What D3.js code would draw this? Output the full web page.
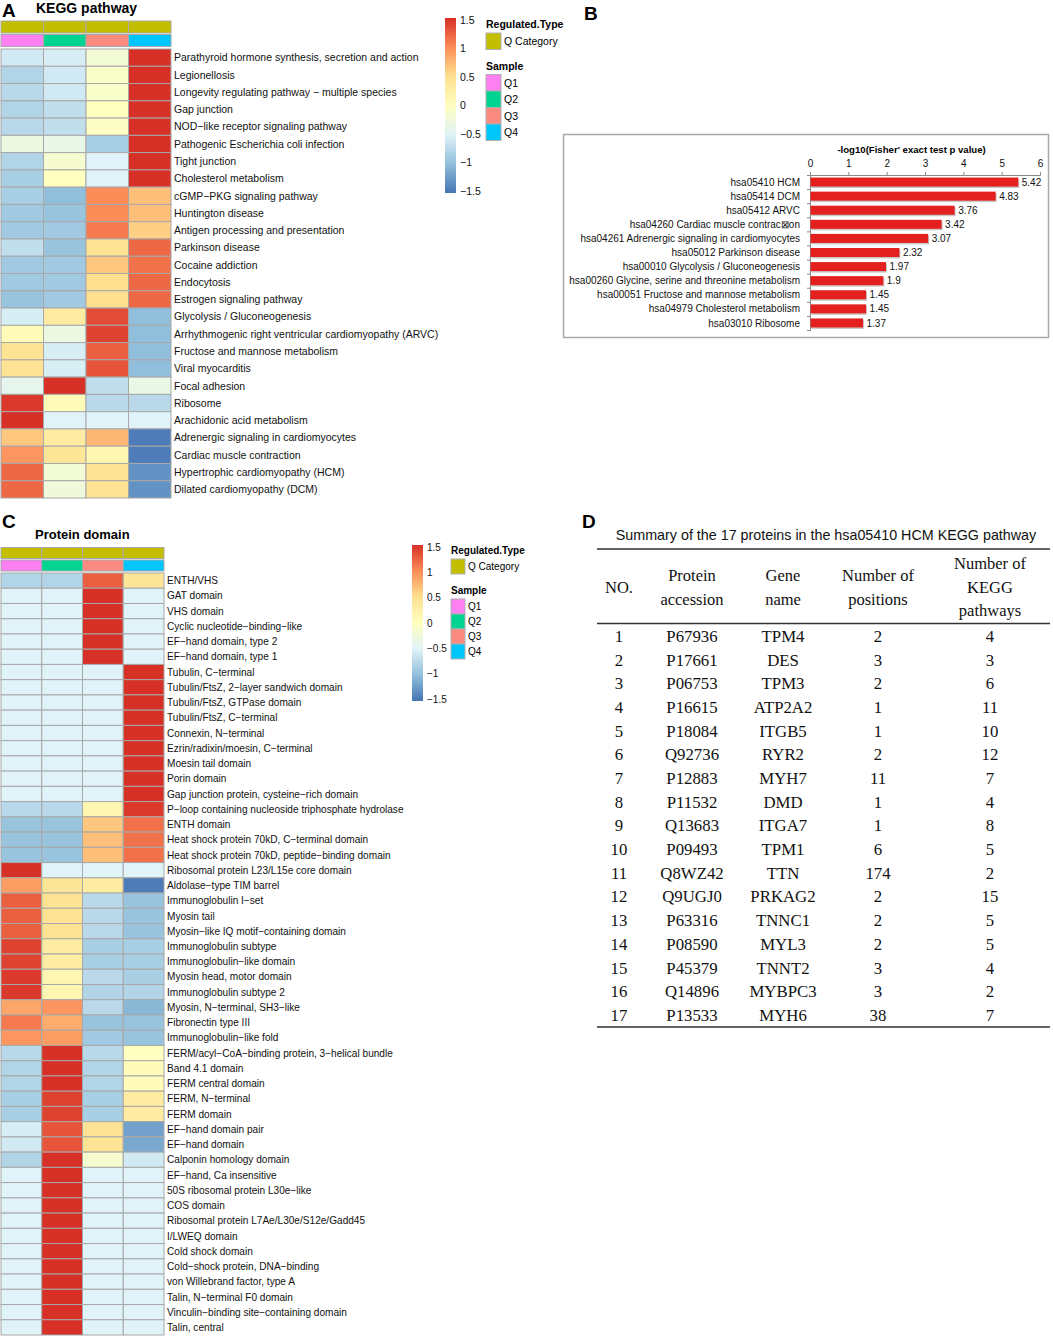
<!DOCTYPE html>
<html>
<head>
<meta charset="utf-8">
<script src="https://cdn.jsdelivr.net/npm/d3@7"></script>
<style>
body { margin: 0; background: #fff; }
svg { display: block; font-family: "Liberation Sans", Arial, sans-serif; }
</style>
</head>
<body>
<svg id="fig" width="1053" height="1337"></svg>
<script>
// ---- shared heatmap data ----
var samples = ["Q1", "Q2", "Q3", "Q4"];
var sampleColors = ["#fd80f2", "#00d490", "#fb8a80", "#00c6fb"];
var categoryColor = "#c3be00";
var heatColors = ["#4575b4", "#91bfdb", "#e0f3f8", "#ffffbf", "#fee090", "#fc8d59", "#d73027"];
var heatBreaks = [-1.5, -1, -0.5, 0, 0.5, 1, 1.5];
var legendTicks = [1.5, 1, 0.5, 0, -0.5, -1, -1.5];

// ---- panel A: KEGG pathway heatmap (Q1..Q4 per row) ----
var keggPathways = [
  "Parathyroid hormone synthesis, secretion and action",
  "Legionellosis",
  "Longevity regulating pathway \u2212 multiple species",
  "Gap junction",
  "NOD\u2212like receptor signaling pathway",
  "Pathogenic Escherichia coli infection",
  "Tight junction",
  "Cholesterol metabolism",
  "cGMP\u2212PKG signaling pathway",
  "Huntington disease",
  "Antigen processing and presentation",
  "Parkinson disease",
  "Cocaine addiction",
  "Endocytosis",
  "Estrogen signaling pathway",
  "Glycolysis / Gluconeogenesis",
  "Arrhythmogenic right ventricular cardiomyopathy (ARVC)",
  "Fructose and mannose metabolism",
  "Viral myocarditis",
  "Focal adhesion",
  "Ribosome",
  "Arachidonic acid metabolism",
  "Adrenergic signaling in cardiomyocytes",
  "Cardiac muscle contraction",
  "Hypertrophic cardiomyopathy (HCM)",
  "Dilated cardiomyopathy (DCM)"
];
var keggValues = [
  [-0.6, -0.55, -0.2, 1.5],
  [-0.8, -0.6, -0.1, 1.5],
  [-0.75, -0.6, -0.1, 1.5],
  [-0.8, -0.7, 0.0, 1.5],
  [-0.75, -0.7, -0.05, 1.5],
  [-0.3, -0.35, -0.85, 1.5],
  [-0.8, -0.15, -0.5, 1.5],
  [-0.85, 0.0, -0.5, 1.5],
  [-0.85, -1.0, 1.0, 0.7],
  [-0.9, -0.95, 1.0, 0.7],
  [-0.9, -0.9, 1.1, 0.6],
  [-0.7, -0.95, 0.45, 1.2],
  [-0.9, -0.9, 0.65, 1.15],
  [-0.9, -0.9, 0.5, 1.2],
  [-0.95, -0.9, 0.5, 1.2],
  [-0.55, 0.3, 1.35, -1.0],
  [0.05, -0.3, 1.4, -1.0],
  [0.45, -0.55, 1.25, -1.0],
  [0.45, -0.55, 1.3, -1.0],
  [-0.4, 1.5, -0.7, -0.35],
  [1.45, 0.05, -0.75, -0.75],
  [1.5, -0.5, -0.5, -0.5],
  [0.65, 0.3, 0.75, -1.45],
  [0.95, 0.4, 0.15, -1.45],
  [1.2, -0.2, 0.45, -1.3],
  [1.2, -0.25, 0.45, -1.3]
];

// ---- panel B: enrichment bars ----
var enrichTerms = [
  "hsa05410 HCM",
  "hsa05414 DCM",
  "hsa05412  ARVC",
  "hsa04260 Cardiac muscle contrac\u22a0on",
  "hsa04261 Adrenergic signaling in cardiomyocytes",
  "hsa05012 Parkinson disease",
  "hsa00010 Glycolysis / Gluconeogenesis",
  "hsa00260 Glycine, serine and threonine metabolism",
  "hsa00051 Fructose and mannose metabolism",
  "hsa04979 Cholesterol metabolism",
  "hsa03010 Ribosome"
];
var enrichScores = [5.42, 4.83, 3.76, 3.42, 3.07, 2.32, 1.97, 1.9, 1.45, 1.45, 1.37];
var enrichTicks = [0, 1, 2, 3, 4, 5, 6];

// ---- panel C: protein domain heatmap ----
var domainLabels = [
  "ENTH/VHS",
  "GAT domain",
  "VHS domain",
  "Cyclic nucleotide\u2212binding\u2212like",
  "EF\u2212hand domain, type 2",
  "EF\u2212hand domain, type 1",
  "Tubulin, C\u2212terminal",
  "Tubulin/FtsZ, 2\u2212layer sandwich domain",
  "Tubulin/FtsZ, GTPase domain",
  "Tubulin/FtsZ, C\u2212terminal",
  "Connexin, N\u2212terminal",
  "Ezrin/radixin/moesin, C\u2212terminal",
  "Moesin tail domain",
  "Porin domain",
  "Gap junction protein, cysteine\u2212rich domain",
  "P\u2212loop containing nucleoside triphosphate hydrolase",
  "ENTH  domain",
  "Heat shock protein 70kD, C\u2212terminal domain",
  "Heat shock protein 70kD, peptide\u2212binding domain",
  "Ribosomal protein L23/L15e core domain",
  "Aldolase\u2212type TIM barrel",
  "Immunoglobulin I\u2212set",
  "Myosin tail",
  "Myosin\u2212like IQ motif\u2212containing domain",
  "Immunoglobulin subtype",
  "Immunoglobulin\u2212like domain",
  "Myosin head, motor domain",
  "Immunoglobulin subtype 2",
  "Myosin, N\u2212terminal, SH3\u2212like",
  "Fibronectin type III",
  "Immunoglobulin\u2212like fold",
  "FERM/acyl\u2212CoA\u2212binding protein, 3\u2212helical bundle",
  "Band 4.1 domain",
  "FERM central domain",
  "FERM, N\u2212terminal",
  "FERM domain",
  "EF\u2212hand domain pair",
  "EF\u2212hand domain",
  "Calponin homology domain",
  "EF\u2212hand, Ca insensitive",
  "50S ribosomal protein L30e\u2212like",
  "COS domain",
  "Ribosomal protein L7Ae/L30e/S12e/Gadd45",
  "I/LWEQ domain",
  "Cold shock domain",
  "Cold\u2212shock protein, DNA\u2212binding",
  "von Willebrand factor, type A",
  "Talin, N\u2212terminal F0 domain",
  "Vinculin\u2212binding site\u2212containing domain",
  "Talin, central"
];
var domainValues = [
  [-0.8, -0.8, 1.25, 0.4],
  [-0.5, -0.5, 1.5, -0.5],
  [-0.5, -0.5, 1.5, -0.5],
  [-0.5, -0.5, 1.5, -0.5],
  [-0.5, -0.5, 1.5, -0.5],
  [-0.5, -0.5, 1.5, -0.5],
  [-0.5, -0.5, -0.5, 1.5],
  [-0.5, -0.5, -0.5, 1.5],
  [-0.5, -0.5, -0.5, 1.5],
  [-0.5, -0.5, -0.5, 1.5],
  [-0.5, -0.5, -0.5, 1.5],
  [-0.5, -0.5, -0.5, 1.5],
  [-0.5, -0.5, -0.5, 1.5],
  [-0.5, -0.5, -0.5, 1.5],
  [-0.5, -0.5, -0.5, 1.5],
  [-0.75, -0.75, 0.15, 1.45],
  [-0.95, -0.95, 0.65, 1.15],
  [-0.95, -0.95, 0.7, 1.15],
  [-0.95, -0.95, 0.7, 1.15],
  [1.5, -0.5, -0.5, -0.5],
  [0.9, 0.4, 0.3, -1.45],
  [1.25, 0.45, -0.75, -0.95],
  [1.25, 0.45, -0.75, -0.95],
  [1.25, 0.45, -0.75, -0.95],
  [1.4, 0.3, -0.85, -0.85],
  [1.4, 0.3, -0.85, -0.85],
  [1.45, 0.15, -0.75, -0.85],
  [1.45, 0.15, -0.8, -0.8],
  [0.85, 0.95, -0.75, -1.05],
  [1.1, 0.8, -0.95, -0.95],
  [0.95, 0.9, -0.9, -0.95],
  [-0.75, 1.5, -0.75, 0.0],
  [-0.8, 1.5, -0.8, 0.05],
  [-0.8, 1.5, -0.8, 0.05],
  [-0.85, 1.4, -0.85, 0.3],
  [-0.85, 1.4, -0.85, 0.3],
  [-0.55, 1.3, 0.45, -1.2],
  [-0.6, 1.3, 0.45, -1.15],
  [-0.8, 1.5, -0.15, -0.6],
  [-0.5, 1.5, -0.5, -0.5],
  [-0.5, 1.5, -0.5, -0.5],
  [-0.5, 1.5, -0.5, -0.5],
  [-0.5, 1.5, -0.5, -0.5],
  [-0.5, 1.5, -0.5, -0.5],
  [-0.5, 1.5, -0.5, -0.5],
  [-0.5, 1.5, -0.5, -0.5],
  [-0.5, 1.5, -0.5, -0.5],
  [-0.5, 1.5, -0.5, -0.5],
  [-0.5, 1.5, -0.5, -0.5],
  [-0.5, 1.5, -0.5, -0.5]
];

// ---- panel D: table ----
var tableTitle = "Summary of the 17 proteins in the hsa05410 HCM KEGG pathway";
var tableHeaders = [["NO."], ["Protein", "accession"], ["Gene", "name"], ["Number of", "positions"], ["Number of", "KEGG", "pathways"]];
var tableNo = [1, 2, 3, 4, 5, 6, 7, 8, 9, 10, 11, 12, 13, 14, 15, 16, 17];
var accessions = ["P67936", "P17661", "P06753", "P16615", "P18084", "Q92736", "P12883", "P11532", "Q13683",
  "P09493", "Q8WZ42", "Q9UGJ0", "P63316", "P08590", "P45379", "Q14896", "P13533"];
var geneNames = ["TPM4", "DES", "TPM3", "ATP2A2", "ITGB5", "RYR2", "MYH7", "DMD", "ITGA7",
  "TPM1", "TTN", "PRKAG2", "TNNC1", "MYL3", "TNNT2", "MYBPC3", "MYH6"];
var positionCounts = [2, 3, 2, 1, 1, 2, 11, 1, 1, 6, 174, 2, 2, 2, 3, 3, 38];
var keggCounts = [4, 3, 6, 11, 10, 12, 7, 4, 8, 5, 2, 15, 5, 5, 4, 2, 7];

var svg = d3.select("#fig");
var color = d3.scaleLinear().domain(heatBreaks).range(heatColors).clamp(true);
var fmtTick = function (d) { return d < 0 ? "\u2212" + Math.abs(d) : "" + d; };

// gradient for heatmap legends
var grad = svg.append("defs").append("linearGradient")
  .attr("id", "heatGrad").attr("x1", 0).attr("y1", 1).attr("x2", 0).attr("y2", 0);
grad.selectAll("stop").data(heatBreaks).enter().append("stop")
  .attr("offset", function (d, i) { return i / (heatBreaks.length - 1); })
  .attr("stop-color", function (d) { return color(d); });

function panelLetter(x, y, t) {
  svg.append("text").attr("x", x).attr("y", y).attr("font-size", 19).attr("font-weight", "bold").text(t);
}

function drawHeatmap(o) {
  var g = svg.append("g");
  var x = d3.scaleBand().domain(samples).range([o.left, o.right]);
  var y = d3.scaleBand().domain(o.labels).range([o.top, o.bottom]);
  // annotation rows
  g.selectAll(".cat").data(samples).enter().append("rect")
    .attr("x", function (d) { return x(d); }).attr("y", o.catY)
    .attr("width", x.bandwidth()).attr("height", o.annH)
    .attr("fill", categoryColor).attr("stroke", "#a8a8a8").attr("stroke-width", 1);
  g.selectAll(".smp").data(samples).enter().append("rect")
    .attr("x", function (d) { return x(d); }).attr("y", o.sampY)
    .attr("width", x.bandwidth()).attr("height", o.annH)
    .attr("fill", function (d, i) { return sampleColors[i]; }).attr("stroke", "#a8a8a8").attr("stroke-width", 1);
  // cells
  var rows = g.selectAll(".row").data(o.values).enter().append("g")
    .attr("transform", function (d, i) { return "translate(0," + y(o.labels[i]) + ")"; });
  rows.selectAll("rect").data(function (d) { return d; }).enter().append("rect")
    .attr("x", function (d, j) { return x(samples[j]); })
    .attr("width", x.bandwidth()).attr("height", y.bandwidth())
    .attr("fill", function (d) { return color(d); })
    .attr("stroke", "#a8a8a8").attr("stroke-width", 1);
  g.selectAll(".lab").data(o.labels).enter().append("text")
    .attr("x", o.right + 3).attr("y", function (d) { return y(d) + y.bandwidth() / 2; })
    .attr("dy", "0.36em").attr("font-size", o.fontSize).attr("fill", "#111")
    .text(function (d) { return d; });

  // colour key
  var ly = d3.scaleLinear().domain([1.5, -1.5]).range([o.keyTop, o.keyBottom]);
  g.append("rect").attr("x", o.keyX).attr("y", ly(1.5) - 2).attr("width", o.keyW)
    .attr("height", ly(-1.5) - ly(1.5) + 4).attr("fill", "url(#heatGrad)");
  g.selectAll(".kt").data(legendTicks).enter().append("text")
    .attr("x", o.keyX + o.keyW + 4).attr("y", function (d) { return ly(d); })
    .attr("dy", "0.36em").attr("font-size", o.keyFont).attr("fill", "#111")
    .text(fmtTick);

  // annotation legend
  var lx = o.legX;
  g.append("text").attr("x", lx).attr("y", o.legY).attr("font-size", o.keyFont)
    .attr("font-weight", "bold").text("Regulated.Type");
  g.append("rect").attr("x", lx).attr("y", o.legY + 5).attr("width", o.boxW).attr("height", o.boxH)
    .attr("fill", categoryColor).attr("stroke", "#b0b0b0");
  g.append("text").attr("x", lx + o.boxW + 3).attr("y", o.legY + 5 + o.boxH / 2).attr("dy", "0.36em")
    .attr("font-size", o.keyFont).text("Q Category");
  var sy = o.legY + o.boxH + 25;
  g.append("text").attr("x", lx).attr("y", sy).attr("font-size", o.keyFont)
    .attr("font-weight", "bold").text("Sample");
  g.selectAll(".sb").data(samples).enter().append("rect")
    .attr("x", lx).attr("y", function (d, i) { return sy + 5 + i * o.boxH; })
    .attr("width", o.boxW).attr("height", o.boxH)
    .attr("fill", function (d, i) { return sampleColors[i]; }).attr("stroke", "#b0b0b0");
  g.selectAll(".st").data(samples).enter().append("text")
    .attr("x", lx + o.boxW + 3).attr("y", function (d, i) { return sy + 5 + (i + 0.5) * o.boxH; })
    .attr("dy", "0.36em").attr("font-size", o.keyFont).text(function (d) { return d; });
}

// ---- Panel A ----
panelLetter(2, 17, "A");
svg.append("text").attr("x", 36).attr("y", 13).attr("font-size", 14).attr("font-weight", "bold").text("KEGG pathway");
drawHeatmap({
  labels: keggPathways, values: keggValues,
  left: 1, right: 171, top: 49, bottom: 498, catY: 21, sampY: 34.5, annH: 12,
  fontSize: 10.5, keyX: 445, keyW: 11, keyTop: 20, keyBottom: 191, keyFont: 10.5,
  legX: 486, legY: 28, boxW: 15, boxH: 16.5
});

// ---- Panel B ----
panelLetter(584, 20, "B");
svg.append("rect").attr("x", 563.5).attr("y", 134.5).attr("width", 485).attr("height", 203)
  .attr("fill", "none").attr("stroke", "#a9a9a9").attr("stroke-width", 1.5);
var xB = d3.scaleLinear().domain([0, 6]).range([810, 1040]);
var yB = d3.scaleBand().domain(enrichTerms).range([175, 330]).paddingInner(0.36).paddingOuter(0.18);
var yIdx = d3.scaleLinear().domain([0, enrichTerms.length]).range([175, 330]);
var gB = svg.append("g");
gB.append("text").attr("x", xB(2.65)).attr("y", 153).attr("text-anchor", "middle")
  .attr("font-size", 9.6).attr("font-weight", "bold").text("-log10(Fisher' exact test p value)");
var axT = gB.append("g").attr("transform", "translate(0,175)")
  .call(d3.axisTop(xB).tickValues(enrichTicks).tickSize(3).tickPadding(5).tickFormat(d3.format("d")));
axT.select(".domain").attr("stroke", "#888");
axT.selectAll(".tick line").attr("stroke", "#888");
axT.selectAll("text").attr("font-size", 10).attr("fill", "#111").attr("font-family", "'Liberation Sans', Arial, sans-serif");
var axL = gB.append("g").attr("transform", "translate(810,0)")
  .call(d3.axisLeft(yIdx).tickValues(d3.range(enrichTerms.length + 1)).tickSize(3).tickFormat(""));
axL.select(".domain").attr("stroke", "#888");
axL.selectAll(".tick line").attr("stroke", "#888");
gB.selectAll(".shadow").data(enrichScores).enter().append("rect")
  .attr("x", xB(0) + 1.5).attr("y", function (d, i) { return yB(enrichTerms[i]) + 1.5; })
  .attr("width", function (d) { return xB(d) - xB(0); }).attr("height", yB.bandwidth())
  .attr("fill", "#c8c8c8");
gB.selectAll(".bar").data(enrichScores).enter().append("rect")
  .attr("x", xB(0) + 0.5).attr("y", function (d, i) { return yB(enrichTerms[i]); })
  .attr("width", function (d) { return xB(d) - xB(0); }).attr("height", yB.bandwidth())
  .attr("fill", "#e3201d");
gB.selectAll(".val").data(enrichScores).enter().append("text")
  .attr("x", function (d) { return xB(d) + 4; })
  .attr("y", function (d, i) { return yB(enrichTerms[i]) + yB.bandwidth() / 2; })
  .attr("dy", "0.36em").attr("font-size", 10).attr("fill", "#111").text(function (d) { return d; });
gB.selectAll(".term").data(enrichTerms).enter().append("text")
  .attr("x", 800).attr("y", function (d) { return yB(d) + yB.bandwidth() / 2; })
  .attr("dy", "0.36em").attr("text-anchor", "end").attr("font-size", 10).attr("fill", "#111")
  .text(function (d) { return d; });

// ---- Panel C ----
panelLetter(2, 528, "C");
svg.append("text").attr("x", 35).attr("y", 539).attr("font-size", 13).attr("font-weight", "bold").text("Protein domain");
drawHeatmap({
  labels: domainLabels, values: domainValues,
  left: 1, right: 164, top: 573, bottom: 1335, catY: 547.5, sampY: 560, annH: 11,
  fontSize: 10.1, keyX: 412, keyW: 11, keyTop: 547, keyBottom: 699, keyFont: 10,
  legX: 451, legY: 554, boxW: 14, boxH: 15
});

// ---- Panel D ----
panelLetter(582, 528, "D");
var gD = svg.append("g").attr("font-family", "'Liberation Serif', 'Times New Roman', serif").attr("fill", "#111");
svg.append("text").attr("x", 826).attr("y", 540).attr("text-anchor", "middle").attr("font-size", 14.3)
  .attr("fill", "#111").text(tableTitle);
var colX = [619, 692, 783, 878, 990];
var rowY = d3.scalePoint().domain(tableNo).range([636, 1015]);
var lineY = [549, 623.5, 1027];
gD.selectAll(".hl").data(lineY).enter().append("line")
  .attr("x1", 597).attr("x2", 1050).attr("y1", function (d) { return d; }).attr("y2", function (d) { return d; })
  .attr("stroke", "#333").attr("stroke-width", 1.5);
tableHeaders.forEach(function (lines, c) {
  lines.forEach(function (t, k) {
    gD.append("text").attr("x", colX[c]).attr("y", 587 + (k - (lines.length - 1) / 2) * 23.5)
      .attr("dy", "0.35em").attr("text-anchor", "middle").attr("font-size", 16.5).text(t);
  });
});
var tableCols = [tableNo, accessions, geneNames, positionCounts, keggCounts];
tableCols.forEach(function (col, c) {
  gD.selectAll(".c" + c).data(col).enter().append("text")
    .attr("x", colX[c]).attr("y", function (d, i) { return rowY(tableNo[i]); })
    .attr("dy", "0.35em").attr("text-anchor", "middle").attr("font-size", 16.8)
    .text(function (d) { return d; });
});
</script>
</body>
</html>
